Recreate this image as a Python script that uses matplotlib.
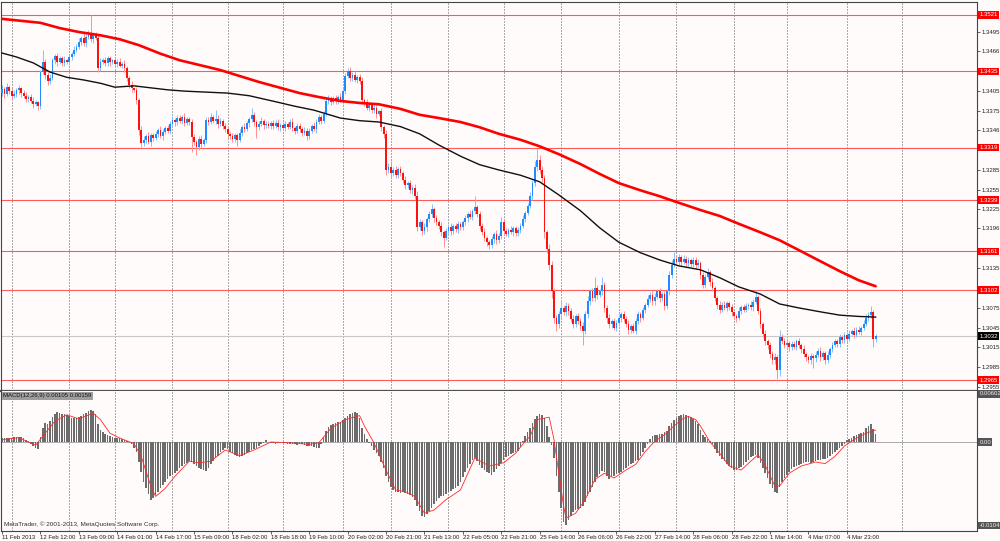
import matplotlib
matplotlib.use("Agg")
import matplotlib.pyplot as plt
import numpy as np

# EURUSD H1, 11 Feb - 5 Mar 2013. prices are pips above 1.2900
closes = [
    508, 500, 512, 505, 497, 500, 506, 509, 502, 498, 493, 496, 490, 486, 488, 482,
    534, 549, 530, 520, 525, 552, 558, 549, 555, 548, 552, 549, 557, 561, 568, 572,
    580, 586, 578, 588, 592, 584, 590, 586, 540, 549, 552, 548, 555, 549, 552, 546,
    550, 544, 547, 540, 525, 514, 510, 507, 491, 446, 426, 431, 436, 428, 438, 433,
    440, 446, 437, 443, 449, 445, 455, 461, 458, 464, 460, 465, 456, 462, 458, 435,
    428, 420, 432, 425, 430, 461, 458, 465, 460, 463, 455, 460, 452, 448, 440, 436,
    432, 438, 430, 442, 450, 447, 456, 462, 468, 458, 450, 455, 460, 453, 455, 452,
    456, 452, 457, 450, 454, 449, 455, 451, 458, 449, 445, 452, 447, 441, 445, 437,
    445, 452, 448, 458, 465, 460, 470, 490, 494, 488, 494, 490, 496, 491, 505, 528,
    535, 525, 530, 522, 527, 520, 492, 488, 480, 484, 476, 480, 470, 474, 450, 440,
    385, 390, 380, 385, 378, 386, 380, 370, 362, 365, 355, 358, 345, 298, 305, 292,
    298, 310, 318, 325, 312, 305, 300, 290, 282, 292, 298, 292, 300, 295, 302, 298,
    305, 312, 318, 314, 322, 328, 318, 300, 290, 282, 275, 270, 280, 287, 278, 285,
    305, 292, 288, 294, 290, 296, 289, 293, 300, 310, 320, 330, 345, 365, 390, 400,
    385, 372, 290, 265, 240, 200, 160, 150, 165, 175, 168, 178, 170, 158, 150, 162,
    155, 148, 140, 165, 185, 200, 190, 205, 195, 200, 210, 175, 160, 150, 155, 145,
    152, 160, 165, 158, 150, 142, 148, 140, 155, 165, 160, 172, 180, 188, 195, 185,
    192, 200, 190, 196, 178, 200, 225, 240, 250, 245, 252, 245, 250, 243, 248, 242,
    248, 240, 244, 225, 210, 222, 230, 215, 205, 190, 180, 172, 180, 175, 182, 176,
    168, 162, 160, 170, 176, 172, 178, 180, 176, 184, 192, 170, 150, 135, 125, 118,
    105, 95, 100, 80, 130, 125, 118, 122, 115, 120, 116, 124, 118, 112, 105, 100,
    96, 102, 98, 104, 110, 100, 106, 95, 104, 112, 118, 124, 120, 130, 126, 134,
    128, 136, 140, 134, 142, 138, 145, 150, 160, 164, 168, 128, 132,
]
first_open = 502

up_wick = [
    6, 4, 5, 3, 4, 6, 3, 5, 2, 4, 5, 3, 4, 6, 3, 2,
    3, 19, 5, 4, 6, 4, 3, 5, 4, 3, 6, 2, 4, 3, 5, 4,
    6, 3, 8, 4, 6, 29, 3, 5, 4, 6, 3, 5, 4, 3, 2, 5,
    4, 6, 3, 5, 4, 3, 6, 2, 5, 4, 6, 5, 3, 7, 4, 3,
    5, 3, 6, 4, 3, 5, 4, 6, 3, 5, 4, 3, 6, 4, 3, 5,
    4, 3, 5, 6, 3, 5, 4, 6, 3, 13, 5, 4, 3, 5, 4, 3,
    6, 4, 3, 5, 4, 6, 3, 4, 11, 5, 3, 4, 6, 3, 4, 5,
    3, 5, 4, 6, 3, 4, 5, 3, 4, 6, 3, 5, 4, 3, 5, 4,
    4, 3, 6, 4, 5, 3, 4, 6, 5, 3, 4, 5, 3, 6, 4, 5,
    5, 6, 4, 5, 3, 4, 6, 3, 5, 4, 3, 5, 4, 3, 5, 4,
    6, 5, 8, 4, 6, 3, 5, 4, 6, 3, 5, 4, 6, 8, 5, 4,
    6, 4, 5, 8, 3, 5, 4, 6, 3, 5, 4, 6, 3, 4, 5, 3,
    4, 5, 3, 6, 4, 17, 3, 5, 4, 6, 3, 4, 5, 3, 6, 4,
    8, 4, 5, 3, 6, 4, 3, 5, 4, 6, 3, 5, 6, 4, 8, 19,
    8, 6, 5, 4, 8, 6, 5, 4, 6, 12, 5, 6, 4, 5, 6, 4,
    5, 4, 6, 5, 8, 4, 6, 17, 5, 4, 12, 5, 4, 6, 3, 5,
    4, 6, 3, 5, 4, 6, 3, 4, 5, 6, 4, 5, 3, 6, 4, 5,
    5, 4, 6, 3, 5, 4, 6, 8, 10, 4, 5, 3, 6, 4, 5, 3,
    5, 4, 6, 3, 5, 4, 6, 3, 5, 4, 3, 5, 4, 6, 3, 4,
    5, 3, 4, 6, 3, 5, 4, 3, 5, 4, 10, 3, 5, 4, 6, 3,
    5, 4, 6, 3, 12, 5, 4, 6, 3, 5, 4, 3, 5, 4, 6, 3,
    4, 5, 3, 6, 4, 5, 3, 4, 6, 3, 5, 4, 3, 6, 4, 5,
    4, 5, 3, 6, 4, 5, 3, 6, 5, 4, 10, 4, 3,
]
low_wick = [
    4, 6, 3, 5, 6, 3, 4, 5, 6, 3, 4, 5, 3, 6, 4, 5,
    4, 3, 6, 5, 4, 3, 5, 6, 3, 4, 5, 3, 4, 5, 3, 4,
    3, 5, 4, 6, 3, 4, 5, 3, 6, 4, 3, 5, 4, 6, 3, 4,
    5, 3, 4, 6, 5, 4, 6, 3, 5, 8, 6, 4, 5, 3, 6, 4,
    3, 5, 4, 6, 3, 4, 5, 3, 6, 4, 3, 5, 4, 3, 5, 23,
    5, 12, 4, 6, 3, 4, 5, 3, 4, 5, 6, 3, 4, 5, 6, 4,
    5, 4, 8, 3, 5, 4, 3, 5, 4, 6, 16, 4, 3, 5, 4, 3,
    4, 5, 3, 4, 6, 3, 5, 4, 3, 5, 6, 3, 4, 5, 3, 6,
    5, 3, 4, 6, 3, 5, 4, 3, 5, 4, 3, 5, 4, 3, 5, 4,
    3, 5, 4, 3, 5, 4, 6, 5, 4, 6, 5, 4, 6, 3, 5, 6,
    8, 5, 6, 4, 5, 6, 4, 5, 6, 4, 5, 6, 4, 6, 5, 6,
    5, 6, 4, 5, 6, 4, 5, 6, 14, 4, 5, 6, 4, 5, 6, 4,
    5, 4, 6, 3, 5, 4, 5, 6, 4, 5, 6, 5, 4, 6, 5, 4,
    5, 6, 4, 5, 3, 6, 4, 5, 4, 3, 5, 4, 3, 5, 4, 6,
    5, 6, 8, 6, 8, 10, 8, 10, 5, 6, 4, 5, 6, 5, 6, 4,
    5, 6, 22, 4, 5, 6, 4, 5, 6, 4, 5, 6, 8, 5, 6, 4,
    5, 4, 6, 5, 4, 6, 5, 3, 4, 5, 6, 4, 5, 3, 4, 6,
    5, 4, 6, 5, 6, 4, 5, 4, 3, 5, 4, 6, 3, 5, 4, 5,
    4, 5, 3, 6, 5, 4, 3, 6, 5, 4, 6, 5, 4, 3, 5, 4,
    5, 4, 6, 3, 5, 4, 3, 5, 4, 6, 3, 5, 6, 5, 6, 5,
    6, 5, 6, 14, 8, 5, 4, 6, 5, 4, 3, 5, 4, 6, 5, 6,
    5, 6, 14, 5, 4, 6, 5, 6, 4, 5, 4, 3, 5, 4, 5, 4,
    5, 4, 3, 5, 4, 3, 5, 4, 3, 5, 4, 13, 5,
]

# moving averages (bar index, pips above 1.2900)
ma_slow_bars = [0, 8, 16, 24, 32, 41, 49, 57, 66, 74, 82, 91, 99, 107, 116, 124, 132, 141,
                149, 157, 166, 174, 182, 191, 199, 207, 216, 224, 232, 241, 249, 257, 266,
                274, 282, 291, 299, 307, 316, 324, 332, 341, 349, 357, 364]
ma_slow = [615, 612, 609, 601, 595, 590, 584, 575, 562, 552, 545, 537, 528, 519, 510, 502,
           496, 490, 487, 485, 478, 469, 464, 458, 450, 440, 431, 421, 409, 394, 379, 365,
           354, 345, 335, 324, 315, 303, 290, 278, 263, 246, 231, 217, 208]
ma_fast_bars = [0, 6, 13, 20, 27, 34, 41, 47, 55, 62, 69, 76, 82, 94, 103, 115, 122, 130,
                141, 149, 157, 166, 174, 182, 191, 199, 207, 216, 224, 232, 241, 249, 257,
                266, 274, 282, 291, 299, 307, 316, 324, 332, 341, 349, 357, 364]
ma_fast = [563, 557, 548, 534, 526, 522, 517, 511, 513, 510, 507, 505, 504, 502, 498, 488,
           482, 476, 464, 460, 458, 451, 440, 423, 406, 393, 385, 377, 367, 347, 323, 297,
           275, 259, 248, 239, 233, 221, 207, 196, 181, 175, 169, 164, 162, 161]

# MACD(12,26,9) main, in 1e-5
macd_main = [
    45, 50, 55, 50, 55, 60, 62, 58, 60, 50, 30, 10, -20, -45, -70, -85,
    60, 180, 240, 230, 260, 310, 345, 370, 360, 350, 345, 340, 320, 305, 295, 300,
    310, 330, 345, 360, 385, 400, 390, 350, 220, 150, 120, 100, 90, 75, 60, 55,
    50, 45, 40, 30, 15, 0, -30, -80, -130, -250, -380, -500, -580, -650, -720, -700,
    -660, -620, -580, -540, -500, -460, -430, -410, -390, -360, -330, -300, -280, -260, -240, -250,
    -270, -300, -320, -340, -355, -360, -320, -280, -240, -200, -170, -130, -100, -80, -90, -120,
    -140, -160, -180, -190, -175, -160, -140, -120, -100, -85, -70, -50, -30, -15, 20, -5,
    -10, -15, -20, -10, -5, -10, -15, -20, -25, -20, -30, -35, -30, -25, -40, -45,
    -50, -55, -60, -70, -75, -20, 60, 140, 190, 210, 230, 240, 250, 255, 270, 300,
    330, 350, 365, 380, 360, 300, 180, 100, 40, -10, -50, -100, -140, -180, -250, -330,
    -420, -500, -560, -600, -620, -630, -635, -630, -640, -650, -660, -690, -730, -800, -860, -920,
    -940, -900, -860, -820, -780, -740, -700, -680, -670, -650, -630, -610, -590, -570, -550, -500,
    -440, -380, -320, -270, -230, -200, -240, -290, -320, -350, -370, -390, -410, -380, -340, -300,
    -260, -230, -190, -170, -150, -140, -125, -110, -60, 10, 80, 130, 180, 240, 290, 330,
    345, 340, 300, 200, 60, -40, -200, -420, -620, -820, -1000, -1040, -980, -930, -880, -850,
    -840, -820, -800, -750, -680, -620, -560, -500, -440, -400, -360, -380, -420, -460, -440, -420,
    -400, -390, -370, -350, -320, -300, -280, -260, -240, -220, -170, -120, -70, -20, 40, 80,
    90, 85, 95, 100, 120, 140, 200, 240, 270, 300, 320, 335, 345, 340, 330, 310,
    290, 260, 220, 150, 90, 60, 40, 10, -30, -90, -140, -180, -210, -240, -270, -300,
    -330, -355, -350, -330, -310, -290, -250, -220, -190, -170, -160, -200, -260, -330, -390, -450,
    -520, -580, -630, -640, -560, -500, -450, -410, -380, -340, -310, -300, -290, -280, -265, -250,
    -245, -260, -255, -240, -230, -225, -215, -210, -195, -180, -150, -125, -100, -75, -50, -25,
    20, 40, 55, 70, 85, 95, 110, 130, 170, 205, 220, 160, 105,
]
signal_bars = [0, 7, 14, 18, 22, 27, 32, 38, 41, 45, 49, 55, 58, 62, 64, 68, 72, 78, 82, 87,
               93, 99, 105, 112, 120, 128, 132, 137, 143, 149, 151, 155, 160, 164, 168, 172,
               176, 180, 185, 191, 197, 203, 209, 214, 218, 220, 223, 228, 230, 232, 234, 235,
               239, 243, 247, 251, 255, 260, 264, 268, 272, 276, 280, 283, 286, 289, 291, 295,
               299, 303, 308, 312, 315, 318, 322, 324, 328, 333, 339, 343, 347, 351, 355, 360, 364]
signal_vals = [30, 55, -40, 110, 260, 340, 290, 360, 280, 110, 50, -20, -180, -550, -680, -580,
               -430, -240, -260, -240, -100, -170, -100, 0, -10, -30, -10, 170, 280, 330, 200,
               -10, -350, -600, -620, -680, -890, -850, -720, -600, -200, -300, -260, -140, 10,
               70, 280, 310, 30, -390, -800, -950, -890, -720, -470, -390, -450, -350, -280,
               -120, 10, 90, 200, 280, 320, 280, 200, 0, -140, -300, -350, -240, -160, -290,
               -550, -550, -390, -300, -250, -270, -180, -50, 30, 110, 150]

levels = [1.3521, 1.3435, 1.3319, 1.3239, 1.3161, 1.3102, 1.2965]
last_price = 1.3032
price_ticks = [1.3525, 1.3495, 1.3466, 1.3435, 1.3405, 1.3375, 1.3346, 1.3315, 1.3285, 1.3255,
               1.3225, 1.3196, 1.3165, 1.3135, 1.3105, 1.3075, 1.3045, 1.3015, 1.2985, 1.2955]
time_labels = ['11 Feb 2013', '12 Feb 12:00', '13 Feb 09:00', '14 Feb 01:00', '14 Feb 17:00',
               '15 Feb 09:00', '18 Feb 02:00', '18 Feb 18:00', '19 Feb 10:00', '20 Feb 02:00',
               '20 Feb 21:00', '21 Feb 13:00', '22 Feb 05:00', '22 Feb 21:00', '25 Feb 14:00',
               '26 Feb 06:00', '26 Feb 22:00', '27 Feb 14:00', '28 Feb 06:00', '28 Feb 22:00',
               '1 Mar 14:00', '4 Mar 07:00', '4 Mar 23:00']
day_starts = [4, 28, 47, 71, 94, 117, 142, 162, 186, 209, 233, 257, 281, 305, 327, 352, 375]

base = 1.29
c = base + np.array(closes) / 1e4
o = np.r_[base + first_open / 1e4, c[:-1]]
hi = np.maximum(o, c) + np.array(up_wick) / 1e4
lo = np.minimum(o, c) - np.array(low_wick) / 1e4
x = np.arange(len(c))
bull = c >= o

BG = '#fffbfa'
FS = 4.3
plt.rcParams['font.family'] = ['Liberation Sans', 'DejaVu Sans']

fig = plt.figure(figsize=(10, 5.41), dpi=100, facecolor=BG)
ax = fig.add_axes([0.001, 150 / 541, 0.976, 389 / 541], facecolor=BG)
ax2 = fig.add_axes([0.001, 10 / 541, 0.976, 140 / 541], facecolor=BG)

for a in (ax, ax2):
    a.set_xlim(-0.42, 406.25)
    for d in day_starts:
        a.axvline(d, color='#3a3a3a', lw=0.6, ls=(0, (1.2, 2.4)), zorder=0.5)
    for s in a.spines.values():
        s.set_color('#444444')
        s.set_linewidth(0.8)

# price panel
ax.set_ylim(1.294849, 1.354067)
for lv in levels:
    ax.axhline(lv, color='#ff5a5a', lw=0.8, zorder=1)
ax.axhline(last_price, color='#c8c8c8', lw=0.8, zorder=1)

for mask, body_col, wick_col in ((bull, '#1e8cff', '#86c2ff'), (~bull, '#ff1010', '#ff9090')):
    ax.vlines(x[mask], lo[mask], hi[mask], colors=wick_col, lw=0.7, zorder=2)
    bottom = np.minimum(o, c)[mask]
    height = np.maximum(np.abs(c - o)[mask], 0.00003)
    ax.bar(x[mask], height, bottom=bottom, width=0.75, color=body_col, lw=0, zorder=3)

ax.plot(ma_slow_bars, base + np.array(ma_slow) / 1e4, color='#ff0000', lw=1.9, zorder=4,
        solid_capstyle='round', solid_joinstyle='round')
ax.plot(ma_fast_bars, base + np.array(ma_fast) / 1e4, color='#101010', lw=1.0, zorder=4,
        solid_joinstyle='round')

# tick labels that sit under a price tag are hidden in the terminal
hidden = [min(abs(t - lv) for lv in levels) < 0.0005 for t in price_ticks]
ax.yaxis.tick_right()
ax.set_yticks(price_ticks)
ax.set_yticklabels(['' if h else f'{t:.4f}' for t, h in zip(price_ticks, hidden)])
ax.tick_params(axis='y', direction='out', length=2, width=0.5, pad=1,
               labelsize=FS, colors='#202020')
ax.tick_params(axis='x', bottom=False, labelbottom=False)
ax.spines['bottom'].set_linewidth(1.6)
ax.spines['bottom'].set_color('#505050')


def tag(axis, y, text, fc, tc):
    axis.text(1.0025, y, text, transform=axis.get_yaxis_transform(), ha='left', va='center',
              fontsize=FS, color=tc, clip_on=False, zorder=10,
              bbox=dict(boxstyle='square,pad=0.2', fc=fc, ec='none'))


for lv in levels:
    tag(ax, lv, f'{lv:.4f}', '#ff0000', 'white')
tag(ax, last_price, f'{last_price:.4f}', '#000000', 'white')

# MACD panel
ax2.set_ylim(-0.01112, 0.006375)
ax2.axhline(0, color='#8a8a8a', lw=0.5, zorder=1)
ax2.bar(x, np.array(macd_main) / 1e5, width=0.7, color='#6c6c6c', lw=0, zorder=2)
ax2.plot(signal_bars, np.array(signal_vals) / 1e5, color='#ff2a2a', lw=0.6, zorder=3)
ax2.set_yticks([])
ax2.spines['top'].set_visible(False)
ax2.set_xticks([16 * k for k in range(len(time_labels))])
ax2.set_xticklabels(time_labels, ha='left')
ax2.tick_params(axis='x', direction='out', length=2, width=0.5, pad=1,
                labelsize=FS, colors='#202020')

tag(ax2, 0.00602, '0.00602', '#555555', '#eeeeee')
tag(ax2, 0.0, '0.00', '#555555', '#eeeeee')
tag(ax2, -0.0104, '-0.0104', '#555555', '#eeeeee')

ax2.text(0.0025, 0.985, 'MACD(12,26,9) 0.00105 0.00159', transform=ax2.transAxes,
         ha='left', va='top', fontsize=FS, color='#111111', zorder=10,
         bbox=dict(boxstyle='square,pad=0.25', fc='#9e9e9e', ec='none'))
ax2.text(0.003, 0.03, 'MetaTrader, \u00a9 2001-2013, MetaQuotes Software Corp.',
         transform=ax2.transAxes, ha='left', va='bottom', fontsize=4.6, color='#303030',
         zorder=10)

fig.savefig('out.png', dpi=100, facecolor=BG)
